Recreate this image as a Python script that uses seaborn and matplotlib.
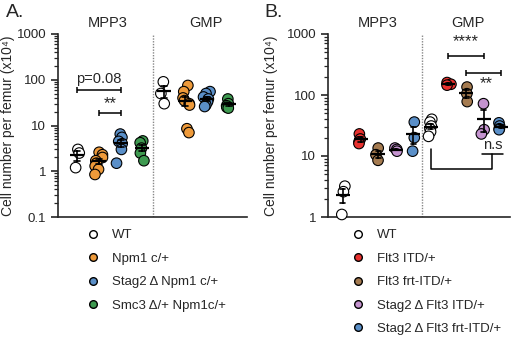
import numpy as np
import pandas as pd
import matplotlib
matplotlib.use("Agg")
import matplotlib.pyplot as plt
import matplotlib.ticker as ticker
from matplotlib.lines import Line2D
import seaborn as sns

sns.set_style("ticks")
plt.rcParams['font.family'] = ['Liberation Sans', 'DejaVu Sans']

# ---- panel A data (cells x10^4 per femur)
genos_A = ["WT", "Npm1 c/+", "Stag2 \u0394 Npm1 c/+", "Smc3 \u0394/+ Npm1c/+"]
cols_A = ["white", "#EE9A3A", "#5A8FC8", "#3E9A50"]
mpp3_A = [
    [3.0, 2.5, 1.2],
    [2.6, 2.3, 2.0, 1.7, 1.5, 1.3, 1.1, 0.85],
    [6.5, 5.5, 4.5, 4.0, 3.0, 1.5],
    [4.6, 4.2, 3.2, 2.5, 1.7],
]
gmp_A = [
    [90, 50, 30],
    [75, 55, 40, 35, 30, 28, 8.5, 7.0],
    [55, 50, 42, 38, 33, 28, 26],
    [38, 30, 27, 25, 24],
]

# ---- panel B data
genos_B = ["WT", "Flt3 ITD/+", "Flt3 frt-ITD/+", "Stag2 \u0394 Flt3 ITD/+",
           "Stag2 \u0394 Flt3 frt-ITD/+"]
cols_B = ["white", "#E8312E", "#A57B50", "#C493CF", "#5A8FC8"]
mpp3_B = [
    [3.2, 2.6, 1.1],
    [23, 19, 17, 16],
    [13.5, 10.5, 8.5],
    [13.5, 12.8, 12.0],
    [36, 20, 12],
]
gmp_B = [
    [40, 36, 31, 28, 25, 21],
    [160, 150, 145],
    [135, 105, 78],
    [72, 27, 23],
    [35, 31, 28, 27],
]

# significance annotations: (pos1, pos2, y, text)
sig_A = [(0, 2, 60, "p=0.08"), (1, 2, 18.5, "**")]
sig_B = [(6, 8, 430, "****"), (7, 9, 230, "**")]


def make_df(genos, mpp, gmp):
    rows = []
    for pop, vals in (("MPP3", mpp), ("GMP", gmp)):
        for g, v in zip(genos, vals):
            for x in v:
                rows.append({"cat": pop + " " + g, "geno": g, "val": x})
    return pd.DataFrame(rows)


def bracket(ax, x1, x2, y, cap):
    kw = dict(color="black", lw=1.1, solid_capstyle="butt")
    ax.plot([x1, x2], [y, y], **kw)
    ax.plot([x1, x1], [y / cap, y * cap], **kw)
    ax.plot([x2, x2], [y / cap, y * cap], **kw)


def panel(ax, genos, cols, mpp, gmp, jitter):
    df = make_df(genos, mpp, gmp)
    order = ["MPP3 " + g for g in genos] + ["GMP " + g for g in genos]
    sns.pointplot(data=df, x="cat", y="val", order=order, errorbar="se",
                  capsize=0.28, color="black", marker="_", markersize=10,
                  markeredgewidth=1.6, linestyle="none",
                  err_kws={"linewidth": 1.2, "zorder": 6}, zorder=6, ax=ax)
    ax.set_yscale("log")
    sns.stripplot(data=df, x="cat", y="val", order=order, hue="geno",
                  hue_order=genos, palette=dict(zip(genos, cols)),
                  jitter=jitter, size=7.6, linewidth=0.8, edgecolor="black",
                  legend=False, clip_on=False, zorder=3, ax=ax)
    n = len(genos)
    ax.axvline(n - 0.5, color="#888888", ls=(0, (1, 1)), lw=1)
    for s in ["top", "right"]:
        ax.spines[s].set_visible(False)
    for s in ["left", "bottom"]:
        ax.spines[s].set_linewidth(1.2)
    ax.set_xticks([])
    ax.set_xlabel("")
    ax.yaxis.set_major_formatter(ticker.FuncFormatter(lambda v, p: "%g" % v))
    ax.yaxis.set_minor_locator(ticker.LogLocator(subs=np.arange(2, 10)))
    ax.yaxis.set_minor_formatter(ticker.NullFormatter())
    ax.tick_params(axis="y", which="major", length=5, width=1.2, labelsize=9.5)
    ax.tick_params(axis="y", which="minor", length=3, width=0.9)
    ax.set_ylabel("Cell number per femur (x10\u2074)", fontsize=10)
    handles = [Line2D([], [], marker="o", ls="none", markersize=5.5,
                      markerfacecolor=c, markeredgecolor="black",
                      markeredgewidth=1.0) for c in cols]
    return handles


np.random.seed(3)
fig = plt.figure(figsize=(5.2, 3.43), dpi=100)
axA = fig.add_axes([58 / 520, 1 - 217 / 343, 189 / 520, 183 / 343])
axB = fig.add_axes([328 / 520, 1 - 217 / 343, 182 / 520, 183 / 343])

hA = panel(axA, genos_A, cols_A, mpp3_A, gmp_A, 0.2)
axA.set_ylim(0.1, 1000)
axA.set_xlim(-0.9, 7.85)
axA.yaxis.set_label_coords(-0.225, 0.5)
for x1, x2, y, t in sig_A:
    bracket(axA, x1, x2, y, 1.16)
axA.text(1, 60 * 1.2, "p=0.08", ha="center", va="bottom", fontsize=10.5)
axA.text(1.5, 21, "**", ha="center", va="bottom", fontsize=12)

hB = panel(axB, genos_B, cols_B, mpp3_B, gmp_B, 0.15)
axB.set_ylim(1, 1000)
axB.set_xlim(-0.85, 9.5)
axB.yaxis.set_label_coords(-0.275, 0.5)
bracket(axB, 6, 8, 430, 1.12)
axB.text(7, 560, "****", ha="center", va="bottom", fontsize=12)
bracket(axB, 7, 9, 230, 1.12)
axB.text(8.15, 115, "**", ha="center", va="bottom", fontsize=12)
# n.s comparison: WT GMP vs Stag2 groups
kw = dict(color="black", lw=1.1)
axB.plot([5, 5, 8.5, 8.5], [12.9, 6.1, 6.1, 10.7], **kw)
axB.plot([7.9, 9.1], [10.7, 10.7], **kw)
axB.text(8.5, 11.5, "n.s", ha="center", va="bottom", fontsize=10.5)

tr = lambda ax: matplotlib.transforms.blended_transform_factory(ax.transData, ax.transAxes)
axA.text(1.4, 1.06, "MPP3", transform=tr(axA), ha="center", va="center", fontsize=10.5)
axA.text(5.95, 1.06, "GMP", transform=tr(axA), ha="center", va="center", fontsize=10.5)
axB.text(2.0, 1.06, "MPP3", transform=tr(axB), ha="center", va="center", fontsize=10.5)
axB.text(7.1, 1.06, "GMP", transform=tr(axB), ha="center", va="center", fontsize=10.5)

fig.text(6 / 520, 1 - 4 / 343, "A.", fontsize=14, ha="left", va="top")
fig.text(264 / 520, 1 - 4 / 343, "B.", fontsize=14, ha="left", va="top")

for ax, h, g, x0 in ((axA, hA, genos_A, 86.5), (axB, hB, genos_B, 351.5)):
    fig.legend(h, g, loc="upper left", bbox_to_anchor=(x0 / 520, 1 - 229 / 343),
               frameon=False, handlelength=1, handletextpad=0.95,
               labelspacing=0.85, borderaxespad=0, borderpad=0, fontsize=9.5)

fig.savefig("out.png", dpi=100)
